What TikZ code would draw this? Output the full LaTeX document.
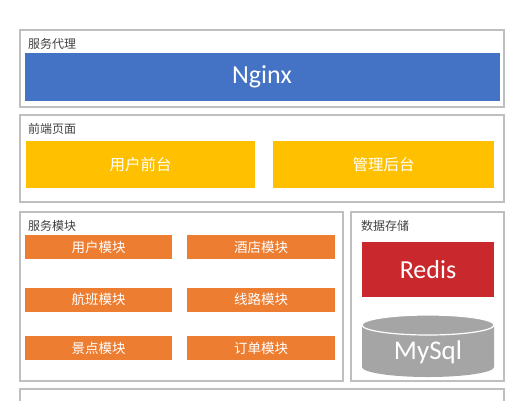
\documentclass[tikz,border=0pt]{standalone}
\usepackage{fontspec}
\setmainfont{Carlito}
\newfontfamily\cjk{Noto Sans CJK SC}
\usetikzlibrary{positioning}

\definecolor{nginxblue}{HTML}{4472C4}
\definecolor{pageyellow}{HTML}{FFC000}
\definecolor{modorange}{HTML}{ED7D31}
\definecolor{redisred}{HTML}{C9282D}
\definecolor{dbgray}{HTML}{A5A5A5}
\definecolor{panelgray}{HTML}{BFBFBF}
\definecolor{labelgray}{HTML}{404040}

\tikzset{
    panel/.style={draw=panelgray, line width=1.3pt},
    paneltitle/.style={anchor=west, inner sep=0pt, text=labelgray, font=\cjk\fontsize{12}{12}\selectfont},
    block/.style={inner sep=0pt, text=white, minimum width=#1},
    bigbox/.style={block=#1, minimum height=47pt, fill=pageyellow, font=\cjk\fontsize{15.5}{15.5}\selectfont},
    modbox/.style={block=#1, minimum height=24pt, fill=modorange, font=\cjk\fontsize{13.5}{13.5}\selectfont},
}

\begin{document}
\begin{tikzpicture}[x=1pt, y=-1pt]
        \useasboundingbox (0,0) rectangle (525,400);
        \clip (0,0) rectangle (525,400);

        % panels
        \draw[panel] (20,30) rectangle (504,107);
        \draw[panel] (20,115) rectangle (504,202);
        \draw[panel] (20,212) rectangle (343,381);
        \draw[panel] (351,212) rectangle (504,381);
        \draw[panel] (20,389) rectangle (504,440);

        \node[paneltitle] (proxytitle) at (28,44) {服务代理};
        \node[paneltitle] (fronttitle) at (28,129) {前端页面};
        \node[paneltitle] (servicetitle) at (28,226) {服务模块};
        \node[paneltitle] (storetitle) at (361,226) {数据存储};

        % proxy
        \node[block=475pt, minimum height=48.5pt, fill=nginxblue, font=\fontsize{26}{26}\selectfont] (nginx) at (262,76.75) {Nginx};

        % front end
        \node[bigbox=229pt] (userfront) at (140.5,164.5) {用户前台};
        \node[bigbox=221pt] (adminfront) at (383.5,164.5) {管理后台};

        % service modules
        \node[modbox=147pt] (usermod) at (98.5,247) {用户模块};
        \node[modbox=148pt] (hotelmod) at (261,247) {酒店模块};
        \node[modbox=147pt] (flightmod) at (98.5,299.5) {航班模块};
        \node[modbox=148pt] (routemod) at (261,299.5) {线路模块};
        \node[modbox=147pt] (scenicmod) at (98.5,348) {景点模块};
        \node[modbox=148pt] (ordermod) at (261,348) {订单模块};

        % storage
        \node[block=132pt, minimum height=55pt, fill=redisred, font=\fontsize{26}{26}\selectfont] (redis) at (428,269.5) {Redis};

        \fill[dbgray] (362,325) -- (362,367) arc[start angle=180, end angle=360, x radius=66, y radius=-10] -- (494,325) -- cycle;
        \draw[fill=dbgray, draw=white, line width=1.2pt] (428,325) ellipse[x radius=66, y radius=10];
        \node[inner sep=0pt, text=white, font=\fontsize{27}{27}\selectfont] (mysql) at (428,352) {MySql};
\end{tikzpicture}
\end{document}
